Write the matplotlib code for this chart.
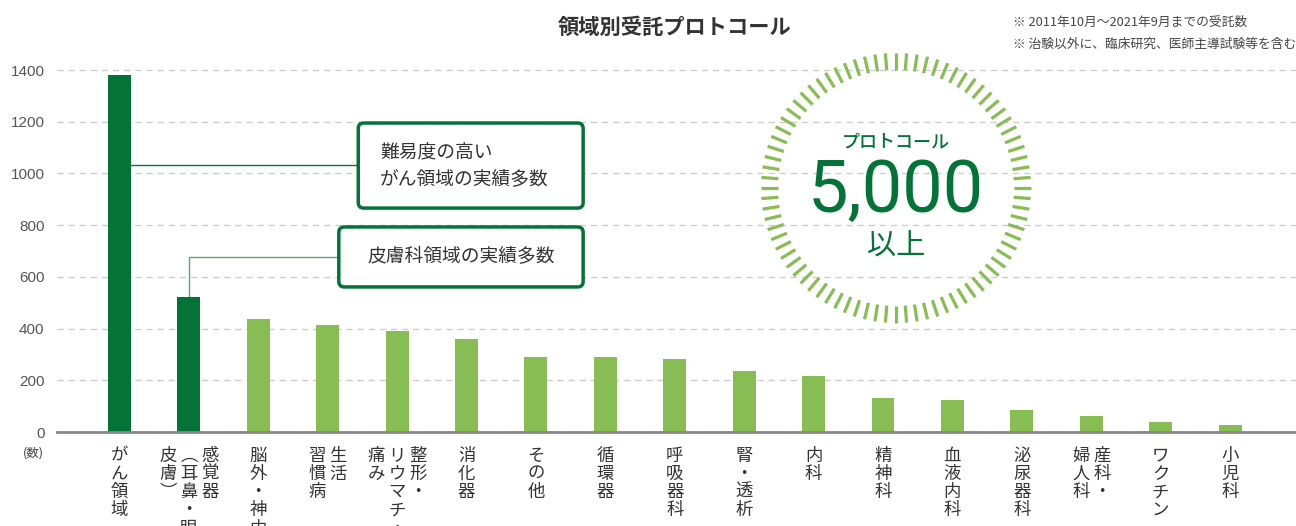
import numpy as np
import matplotlib
matplotlib.use("Agg")
import matplotlib.pyplot as plt
from matplotlib.patches import FancyBboxPatch
from matplotlib import font_manager

plt.rcParams['font.family'] = ['Noto Sans CJK JP', 'DejaVu Sans']

# ---------------- data ----------------
categories = [
    ["がん領域"],
    ["感覚器", "︵耳鼻・眼・", "皮膚︶"],
    ["脳外・神内"],
    ["生活", "習慣病"],
    ["整形・", "リウマチ・", "痛み"],
    ["消化器"],
    ["その他"],
    ["循環器"],
    ["呼吸器科"],
    ["腎・透析"],
    ["内科"],
    ["精神科"],
    ["血液内科"],
    ["泌尿器科"],
    ["産科・", "婦人科"],
    ["ワクチン"],
    ["小児科"],
]
values = [1380, 521, 436, 413, 390, 359, 289, 289, 281, 235, 215, 130, 123, 84, 61, 37, 26]
highlight = [True, True] + [False] * 15
yticks = [0, 200, 400, 600, 800, 1000, 1200, 1400]

title = "領域別受託プロトコール"
notes = ["※ 2011年10月～2021年9月までの受託数", "※ 治験以外に、臨床研究、医師主導試験等を含む"]
callout1 = "難易度の高い\nがん領域の実績多数"
callout2 = "皮膚科領域の実績多数"
callout1_y = 1033
callout2_y = 677
burst_top = "プロトコール"
burst_num = "5,000"
burst_bottom = "以上"
unit_label = "(数)"

DARK = "#037337"
LIGHT = "#88bd53"
TXT = "#333333"

names = {f.name for f in font_manager.fontManager.ttflist}
num_family = ['Roboto', 'Liberation Sans', 'DejaVu Sans'] if 'Roboto' in names else ['Liberation Sans', 'DejaVu Sans']

W, H = 1296, 526
fig = plt.figure(figsize=(W / 100, H / 100), dpi=100)
ax = fig.add_axes([57 / W, 1 - 432 / H, 1 - 57 / W, (432 - 70) / H])

x = np.arange(len(values))
colors = [DARK if h else LIGHT for h in highlight]
ax.bar(x, values, width=0.33, color=colors, zorder=3)

ax.set_xlim(-0.9, 16.95)
ax.set_ylim(0, 1400)
ax.set_yticks(yticks)
ax.set_yticklabels([str(v) for v in yticks], fontsize=11, color="#555555",
                   family=['Liberation Sans', 'DejaVu Sans'])
ax.tick_params(axis='y', length=0, pad=9)
ax.set_xticks([])
for s in ['top', 'right', 'left']:
    ax.spines[s].set_visible(False)
ax.spines['bottom'].set_color('#888888')
ax.spines['bottom'].set_linewidth(2.0)
ax.spines['bottom'].set_zorder(4)
ax.yaxis.grid(True, color='#cccccc', linestyle=(0, (4.5, 3.5)), linewidth=1.0, zorder=0)
for gl in ax.get_ygridlines():
    gl.set_clip_on(False)

# vertical (tategaki) category labels
px = 72 / 100  # points per pixel
col_pitch = 21 * px
char_pitch = 18.3 * px
first_center = 23.5 * px
for xi, cols in zip(x, categories):
    n = len(cols)
    for j, col in enumerate(cols):
        dx = ((n - 1) / 2 - j) * col_pitch
        for i, ch in enumerate(col):
            ax.annotate(ch, xy=(xi, 0), xycoords=('data', 'axes fraction'),
                        xytext=(dx, -first_center - i * char_pitch), textcoords='offset points',
                        ha='center', va='center', fontsize=12.5, color=TXT, annotation_clip=False)

# unit label
fig.text(33 / W, 1 - 453 / H, unit_label, ha='center', va='center', fontsize=9, color='#444444')

# title & notes
fig.text(675 / W, 1 - 27 / H, title, ha='center', va='center', fontsize=15.3,
         fontweight='bold', color=TXT)
fig.text(1013 / W, 1 - 22 / H, notes[0], ha='left', va='center', fontsize=9.2, color='#444444')
fig.text(1013 / W, 1 - 44 / H, notes[1], ha='left', va='center', fontsize=9.2, color='#444444')

# callouts (data coords)
xs = 69.4  # px per x unit
ys = 0.2585  # px per y unit
aspect = (1 / ys) / (1 / xs)
b1 = FancyBboxPatch((3.44, 866), 6.68 - 3.44, 1195 - 866,
                    boxstyle="round,pad=0,rounding_size=0.08", mutation_aspect=aspect,
                    fc='white', ec=DARK, lw=2.5, zorder=5, clip_on=False)
b2 = FancyBboxPatch((3.16, 561), 6.68 - 3.16, 793 - 561,
                    boxstyle="round,pad=0,rounding_size=0.08", mutation_aspect=aspect,
                    fc='white', ec=DARK, lw=2.5, zorder=5, clip_on=False)
ax.add_patch(b1)
ax.add_patch(b2)
ax.text(3.44 + 22 / xs, (1195 + 866) / 2 - 4, callout1, ha='left', va='center', fontsize=13.5,
        color=TXT, zorder=6, linespacing=1.35)
ax.text((3.16 + 6.68) / 2, (561 + 793) / 2, callout2, ha='center', va='center', fontsize=13.5,
        color=TXT, zorder=6)

# connector lines
ax.plot([x[0] + 0.165, 3.44], [callout1_y, callout1_y], color=DARK, lw=1.0, zorder=4)
ax.plot([x[1], x[1], 3.16], [values[1], callout2_y, callout2_y], color="#5aa870", lw=1.0, zorder=2)

# burst graphic
cx, cy, R = 896, 188, 150
bax = fig.add_axes([(cx - R) / W, 1 - (cy + R) / H, 2 * R / W, 2 * R / H])
bax.set_xlim(-R, R)
bax.set_ylim(-R, R)
bax.set_aspect('equal')
bax.axis('off')
nt = 80
ang = np.linspace(0, 2 * np.pi, nt, endpoint=False) + np.pi / 2
r_in, r_out = 118, 135
for a in ang:
    bax.plot([r_in * np.cos(a), r_out * np.cos(a)], [r_in * np.sin(a), r_out * np.sin(a)],
             color=LIGHT, lw=2.3, solid_capstyle='butt')
bax.text(0, 46, burst_top, ha='center', va='center', fontsize=13, color=DARK, fontweight='medium')
bax.text(0, -4, burst_num, ha='center', va='center', fontsize=52, color=DARK,
         family=num_family, fontweight='normal')
bax.text(0, -59, burst_bottom, ha='center', va='center', fontsize=21, color=DARK)

fig.savefig("out.png", dpi=100)
